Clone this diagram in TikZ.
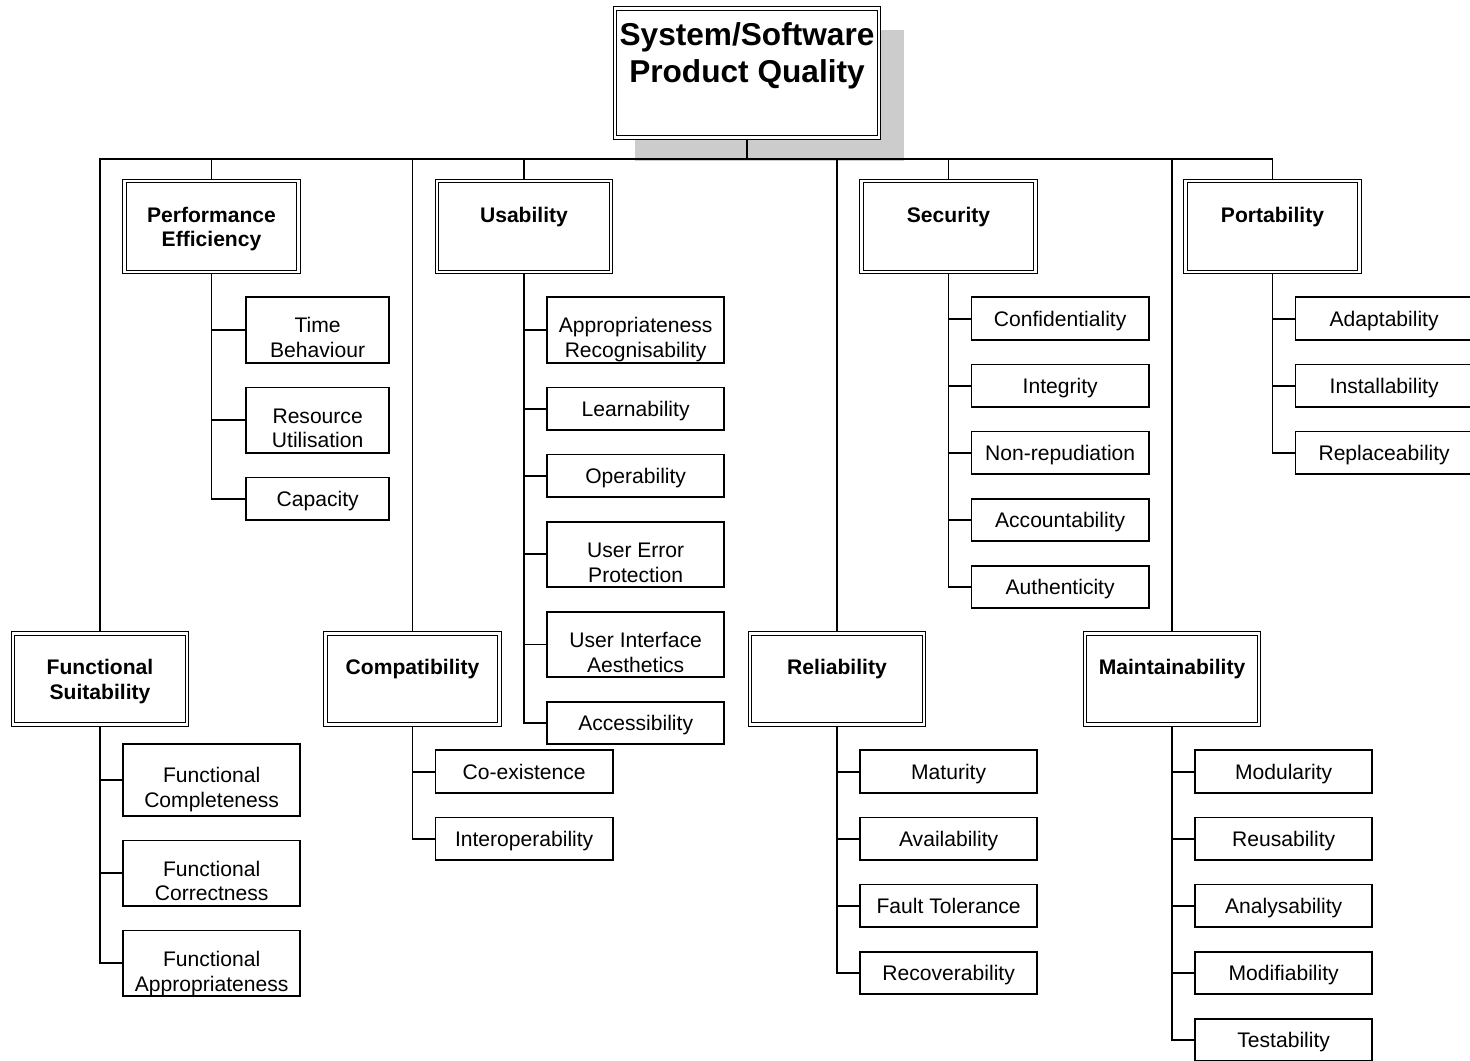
\documentclass[tikz,border=0pt]{standalone}
\usepackage{fontspec}
\setmainfont{Liberation Sans}
\usetikzlibrary{positioning,shadows}

\begin{document}
\begin{tikzpicture}[
    x=0.02cm, y=-0.02cm,
    node distance=0.455cm and 0.44cm,
    line width=1.05pt,
    leaf/.style={draw, line width=1.05pt, align=center, inner sep=0pt, minimum width=3.55cm, minimum height=0.85cm, text height=11pt, text depth=2.4pt, font=\fontsize{12}{14.2}\selectfont},
    tallleaf/.style={leaf, minimum height=1.31cm, text height=34pt},
    narrow/.style={minimum width=2.87cm},
    cat/.style={draw, double, double distance=1.3pt, line width=0.75pt, outer sep=1.4pt, align=center, inner xsep=2pt, inner ysep=0pt, minimum width=3.48cm, text height=0.82cm, text depth=1.0cm, font=\bfseries\fontsize{12}{14.2}\selectfont},
    tallcat/.style={cat, text height=1.32cm, text depth=0.5cm},
    rootbox/.style={draw, double, double distance=1.3pt, line width=0.75pt, outer sep=1.4pt, fill=white, align=center, inner xsep=2pt, inner ysep=0pt, minimum width=5.28cm, text height=1.49cm, text depth=1.09cm, font=\bfseries\fontsize{18}{21.5}\selectfont, drop shadow={shadow xshift=0.44cm, shadow yshift=-0.44cm, shadow scale=1.02, fill=black!20, opacity=1}}
  ]
    \useasboundingbox (0,0) rectangle (1470,1061);

    \node[rootbox] (psq) at (747,73) {System/Software\\Product Quality};
    \coordinate (bus) at (0,159);

    % characteristics
    \node[tallcat] (perf) at (211.5,226.5) {Performance\\Efficiency};
    \node[cat] (usab) at (524,226.5) {Usability};
    \node[cat] (secu) at (948.5,226.5) {Security};
    \node[cat] (port) at (1272.5,226.5) {Portability};
    \node[tallcat] (func) at (100,679) {Functional\\Suitability};
    \node[cat] (comp) at (412.5,679) {Compatibility};
    \node[cat] (reli) at (837,679) {Reliability};
    \node[cat] (main) at (1172,679) {Maintainability};

    % sub-characteristics
    \node[tallleaf, narrow, below right=0.44cm and 0.67cm of perf.south] (time) {Time\\Behaviour};
    \node[tallleaf, narrow, below=of time] (resu) {Resource\\Utilisation};
    \node[leaf, narrow, below=of resu] (capa) {Capacity};

    \node[tallleaf, below right=0.44cm and 0.44cm of usab.south] (apre) {Appropriateness\\Recognisability};
    \node[leaf, below=of apre] (lear) {Learnability};
    \node[leaf, below=of lear] (oper) {Operability};
    \node[tallleaf, below=of oper] (uerr) {User Error\\Protection};
    \node[tallleaf, below=of uerr] (uiae) {User Interface\\Aesthetics};
    \node[leaf, below=of uiae] (acce) {Accessibility};

    \node[leaf, below right=0.44cm and 0.44cm of secu.south] (conf) {Confidentiality};
    \node[leaf, below=of conf] (inte) {Integrity};
    \node[leaf, below=of inte] (nonr) {Non-repudiation};
    \node[leaf, below=of nonr] (acco) {Accountability};
    \node[leaf, below=of acco] (auth) {Authenticity};

    \node[leaf, below right=0.44cm and 0.44cm of port.south] (adap) {Adaptability};
    \node[leaf, below=of adap] (inst) {Installability};
    \node[leaf, below=of inst] (repl) {Replaceability};

    \node[tallleaf, minimum height=1.44cm, below right=0.32cm and 0.44cm of func.south] (fcom) {Functional\\Completeness};
    \node[tallleaf, below=of fcom] (fcor) {Functional\\Correctness};
    \node[tallleaf, below=of fcor] (fapp) {Functional\\Appropriateness};

    \node[leaf, below right=0.45cm and 0.44cm of comp.south] (coex) {Co-existence};
    \node[leaf, below=of coex] (intr) {Interoperability};

    \node[leaf, below right=0.45cm and 0.44cm of reli.south] (matu) {Maturity};
    \node[leaf, below=of matu] (avai) {Availability};
    \node[leaf, below=of avai] (faul) {Fault Tolerance};
    \node[leaf, below=of faul] (reco) {Recoverability};

    \node[leaf, below right=0.45cm and 0.44cm of main.south] (modu) {Modularity};
    \node[leaf, below=of modu] (reus) {Reusability};
    \node[leaf, below=of reus] (anal) {Analysability};
    \node[leaf, below=of anal] (modi) {Modifiability};
    \node[leaf, below=of modi] (test) {Testability};

    % tree lines
    \draw (psq.south) -- (psq.south |- bus);
    \draw (func.north) |- (port.north |- bus) -- (port.north);
    \foreach \c in {perf,usab,secu,comp,reli,main}
      \draw (\c.north) -- (\c.north |- bus);

    \foreach \c in {time,resu,capa} \draw (perf.south) |- (\c.west);
    \foreach \c in {apre,lear,oper,uerr,uiae,acce} \draw (usab.south) |- (\c.west);
    \foreach \c in {conf,inte,nonr,acco,auth} \draw (secu.south) |- (\c.west);
    \foreach \c in {adap,inst,repl} \draw (port.south) |- (\c.west);
    \foreach \c in {fcom,fcor,fapp} \draw (func.south) |- (\c.west);
    \foreach \c in {coex,intr} \draw (comp.south) |- (\c.west);
    \foreach \c in {matu,avai,faul,reco} \draw (reli.south) |- (\c.west);
    \foreach \c in {modu,reus,anal,modi,test} \draw (main.south) |- (\c.west);
\end{tikzpicture}
\end{document}
